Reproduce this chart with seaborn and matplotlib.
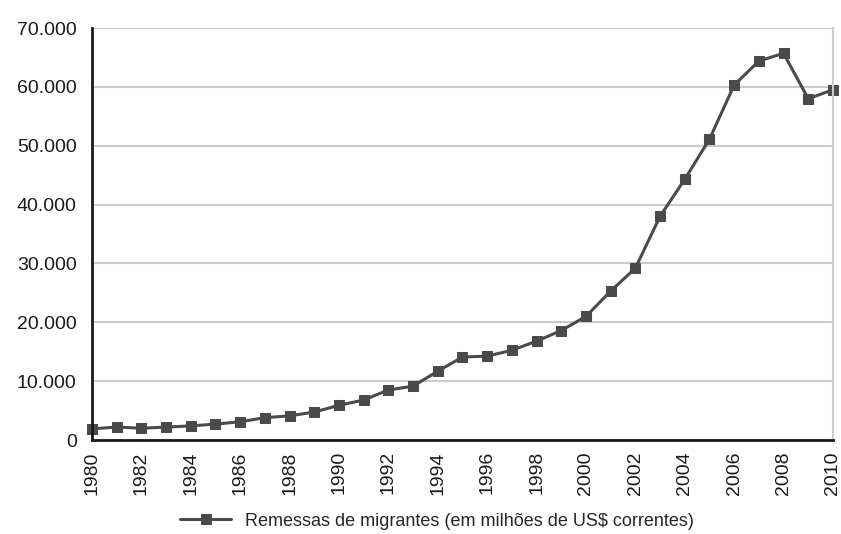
import pandas as pd
import seaborn as sns
import matplotlib.pyplot as plt
import matplotlib.ticker as mticker

# Data
years = list(range(1980, 2011))
remessas = [1900, 2200, 2000, 2200, 2400, 2700, 3100, 3800, 4100, 4750,
            5900, 6800, 8500, 9150, 11700, 14100, 14250, 15250, 16800, 18600,
            21000, 25300, 29200, 38000, 44300, 51100, 60300, 64400, 65700, 58000,
            59500]
serie_label = 'Remessas de migrantes (em milhões de US$ correntes)'

df = pd.DataFrame({'Ano': years, 'Valor': remessas})

sns.set_style('white')
plt.rcParams['font.family'] = ['Liberation Sans', 'DejaVu Sans']

fig = plt.figure(figsize=(8.41, 5.34), dpi=100)
ax = fig.add_axes([0.1094, 0.176, 0.881, 0.7715])

sns.lineplot(data=df, x='Ano', y='Valor', ax=ax, color='#4a4a4a',
             linewidth=2.2, marker='s', markersize=6.5,
             markeredgecolor='#4a4a4a', label=serie_label, clip_on=False)

ax.set_xlim(1980, 2010)
ax.set_ylim(0, 70000)

# y axis
ax.yaxis.set_major_locator(mticker.MultipleLocator(10000))
ax.yaxis.set_major_formatter(mticker.FuncFormatter(lambda v, p: f'{int(v):,}'.replace(',', '.')))
ax.grid(axis='y', color='#cccccc', linewidth=1.5)
ax.set_axisbelow(True)

# x axis
ax.set_xticks(range(1980, 2011, 2))
ax.set_xticks(range(1980, 2011, 1), minor=True)
ax.set_xticklabels([str(y) for y in range(1980, 2011, 2)], rotation=90)

ax.tick_params(axis='both', which='major', labelsize=14, colors='#1a1a1a',
               length=6, width=1.5, direction='out')
ax.tick_params(axis='x', which='minor', length=4, width=1.5, color='#1a1a1a')
ax.tick_params(axis='y', which='major', color='#1a1a1a', length=8, pad=3)
ax.tick_params(axis='x', which='major', pad=2)

for side in ['left', 'bottom']:
    ax.spines[side].set_color('#1a1a1a')
    ax.spines[side].set_linewidth(2)
ax.spines['top'].set_visible(False)
ax.spines['right'].set_color('#cccccc')
ax.spines['right'].set_linewidth(1.5)

ax.set_xlabel('')
ax.set_ylabel('')

ax.legend(loc='center', bbox_to_anchor=(0.52, 0.024), bbox_transform=fig.transFigure,
          frameon=False, fontsize=13, handlelength=2.8)

plt.savefig('out.png', dpi=100)
